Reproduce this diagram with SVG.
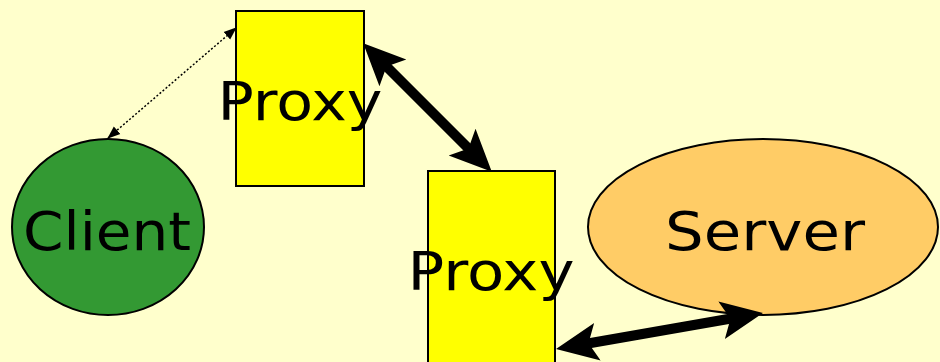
<svg xmlns="http://www.w3.org/2000/svg" width="940" height="362" viewBox="0 0 940 362">
<defs>
<style>
.lbl{font-family:"Comic Sans MS","DejaVu Sans",sans-serif;font-size:54px;fill:#000;text-anchor:middle}
.nd{stroke:#000;stroke-width:2}
.thick{stroke:#000;stroke-width:10;fill:none}
.dot{stroke:#000;stroke-width:1.5;stroke-dasharray:2 2;fill:none}
</style>
<marker id="big" viewBox="0 0 42 40" refX="14" refY="20" markerWidth="42" markerHeight="40" markerUnits="userSpaceOnUse" orient="auto-start-reverse">
<path d="M0,1 L42,20 L0,39 L9,20 Z" fill="#000"/>
</marker>
<marker id="small" viewBox="0 0 13 12" refX="12" refY="6" markerWidth="13" markerHeight="12" markerUnits="userSpaceOnUse" orient="auto-start-reverse">
<path d="M0,1 L13,6 L0,11 Z" fill="#000"/>
</marker>
</defs>
<rect width="940" height="362" fill="#FFFFCC"/>
<g id="client"><ellipse class="nd" cx="108" cy="227" rx="96" ry="88" fill="#339933"/><text class="lbl" x="107" y="250" textLength="168" lengthAdjust="spacingAndGlyphs">Client</text></g>
<g id="proxy1"><rect class="nd" x="236" y="11" width="128" height="175" fill="#FFFF00"/><text class="lbl" x="300" y="120" textLength="165" lengthAdjust="spacingAndGlyphs">Proxy</text></g>
<g id="proxy2"><rect class="nd" x="428" y="171" width="127" height="200" fill="#FFFF00"/><text class="lbl" x="491" y="290" textLength="167" lengthAdjust="spacingAndGlyphs">Proxy</text></g>
<g id="server"><ellipse class="nd" cx="763" cy="227" rx="175" ry="88" fill="#FFCC66"/><text class="lbl" x="765" y="250" textLength="200" lengthAdjust="spacingAndGlyphs">Server</text></g>
<g id="connectors">
<line class="dot" x1="108" y1="138" x2="236" y2="28" marker-start="url(#small)" marker-end="url(#small)"/>
<line class="thick" x1="383" y1="63" x2="472" y2="152" marker-start="url(#big)" marker-end="url(#big)"/>
<line class="thick" x1="583.6" y1="344.2" x2="735.4" y2="317.8" marker-start="url(#big)" marker-end="url(#big)"/>
</g>
</svg>
